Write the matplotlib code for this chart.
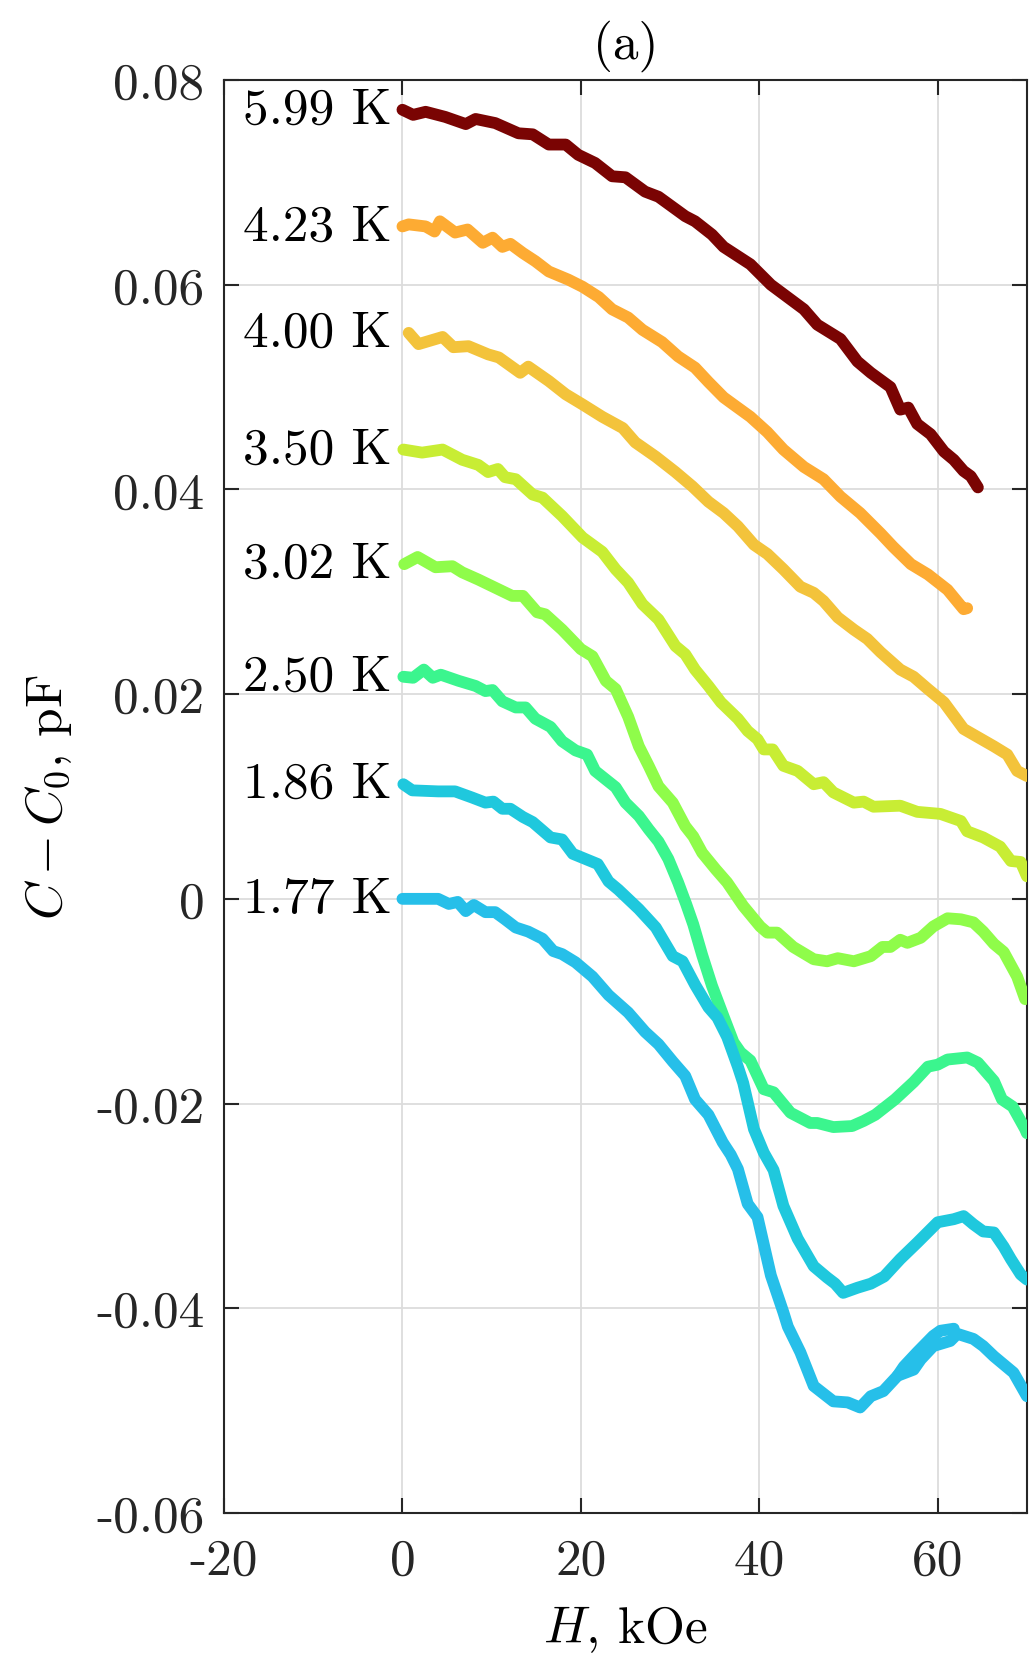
"""Capacitance vs field curves at several temperatures, panel (a)."""

from __future__ import annotations

import matplotlib

matplotlib.use("Agg")
import matplotlib.pyplot as plt
from matplotlib.axes import Axes

plt.rcParams["font.family"] = ["cmr10", "DejaVu Serif"]
plt.rcParams["mathtext.fontset"] = "cm"
plt.rcParams["axes.formatter.use_mathtext"] = True

# --- data (H in kOe, C - C0 in pF) ----------------------------------------
labels = ["5.99 K", "4.23 K", "4.00 K", "3.50 K", "3.02 K", "2.50 K", "1.86 K", "1.77 K"]
colors = ["#7a0403", "#fdab33", "#f3c33b", "#c8ed34", "#8ffc4a", "#3bf58e", "#1fc8dd", "#26bfe9"]

h_599 = [0, 1.2, 2.6, 4.8, 7.1, 8.2, 10.4, 13.0, 14.6, 16.4, 18.3, 19.7, 21.6, 23.5, 25.0,
         27.2, 28.7, 31.7, 32.8, 34.7, 36.0, 39.0, 41.3, 45.0, 46.5, 49.1, 51.0, 52.5, 54.7,
         55.8, 56.7, 57.7, 59.2, 60.7, 61.8, 62.9, 63.7, 64.5]
c_599 = [.0771, .0766, .0769, .0764, .0757, .0762, .0758, .0748, .0747, .0737, .0737, .0727,
         .0719, .0706, .0705, .0691, .0686, .0667, .0662, .0649, .0637, .0620, .0600, .0576,
         .0561, .0547, .0525, .0514, .0500, .0478, .0480, .0464, .0454, .0437, .0429, .0418,
         .0413, .0402]

h_423 = [0, 0.7, 2.6, 3.6, 4.2, 5.9, 7.3, 9.0, 10.1, 11.2, 12.1, 13.5, 14.9, 16.4, 18.6, 20.2,
         22.0, 23.5, 25.3, 26.9, 29.1, 30.9, 32.8, 34.3, 36.0, 37.1, 39.0, 40.9, 42.7, 45.0,
         47.2, 49.1, 51.3, 53.6, 55.0, 57.0, 58.9, 61.1, 62.9, 63.3]
c_423 = [.0657, .0659, .0657, .0652, .0662, .0651, .0654, .0641, .0646, .0637, .0640, .0631,
         .0623, .0613, .0605, .0598, .0588, .0576, .0568, .0556, .0544, .0530, .0519, .0505,
         .0490, .0483, .0471, .0456, .0439, .0422, .0410, .0393, .0377, .0357, .0344, .0327,
         .0317, .0302, .0283, .0284]

h_400 = [0.7, 1.8, 4.5, 5.7, 7.4, 9.6, 10.8, 13.2, 14.1, 16.4, 18.3, 20.2, 22.4, 24.7, 26.1,
         28.4, 30.6, 32.5, 34.3, 36.0, 37.6, 39.4, 40.9, 42.7, 44.6, 46.1, 47.2, 48.8, 50.6,
         52.1, 53.6, 55.8, 57.3, 58.9, 60.7, 62.9, 64.5, 66.3, 67.8, 68.9, 70.0]
c_400 = [.0553, .0542, .0549, .0539, .0540, .0532, .0529, .0514, .0520, .0506, .0493, .0483,
         .0471, .0460, .0446, .0432, .0417, .0403, .0388, .0377, .0364, .0346, .0337, .0322,
         .0305, .0299, .0291, .0275, .0263, .0254, .0241, .0224, .0217, .0205, .0192, .0166,
         .0158, .0149, .0141, .0125, .0120]

h_350 = [0.1, 2.2, 4.5, 6.7, 8.5, 9.6, 10.7, 11.5, 12.7, 14.6, 15.7, 17.9, 20.2, 22.4, 23.9,
         25.3, 26.9, 28.7, 30.6, 31.7, 32.8, 34.3, 35.7, 37.6, 38.7, 39.8, 40.5, 41.5, 42.7,
         44.3, 46.1, 47.2, 48.3, 50.6, 51.7, 52.8, 55.8, 57.7, 60.3, 62.6, 63.3, 65.1, 67.0,
         68.2, 69.3, 70.0]
c_350 = [.0439, .0436, .0439, .0429, .0424, .0417, .0420, .0412, .0410, .0395, .0392, .0374,
         .0353, .0339, .0322, .0309, .0288, .0273, .0247, .0239, .0224, .0208, .0192, .0176,
         .0164, .0156, .0146, .0146, .0130, .0125, .0112, .0114, .0104, .0094, .0095, .0090,
         .0091, .0085, .0083, .0076, .0066, .0060, .0051, .0037, .0036, .0022]

h_302 = [0.2, 1.7, 3.7, 5.6, 6.7, 8.5, 10.4, 12.3, 13.5, 15.1, 16.0, 17.9, 20.0, 21.3, 22.8,
         23.9, 25.3, 26.5, 27.6, 28.7, 30.3, 31.7, 32.6, 33.6, 35.1, 36.4, 38.2, 40.1, 40.9,
         42.0, 43.8, 46.1, 47.6, 48.8, 50.6, 52.5, 53.8, 54.7, 55.8, 56.6, 58.1, 59.5, 61.1,
         62.6, 64.0, 65.1, 66.3, 67.4, 68.9, 69.8]
c_302 = [.0327, .0334, .0324, .0325, .0319, .0312, .0304, .0296, .0296, .0280, .0278, .0263,
         .0244, .0237, .0213, .0205, .0178, .0149, .0130, .0110, .0094, .0071, .0061, .0045,
         .0029, .0016, -.0007, -.0027, -.0033, -.0033, -.0047, -.0059, -.0061, -.0058, -.0061,
         -.0056, -.0047, -.0047, -.0040, -.0043, -.0038, -.0027, -.0019, -.0020, -.0023,
         -.0032, -.0044, -.0052, -.0076, -.0098]

h_250 = [0.1, 1.2, 2.4, 3.4, 4.3, 6.3, 8.2, 9.3, 10.1, 11.2, 12.7, 13.8, 14.9, 16.6, 17.9,
         19.4, 20.7, 21.6, 23.9, 25.0, 26.5, 27.6, 28.7, 29.8, 30.9, 31.8, 32.6, 33.6, 34.7,
         36.0, 37.1, 37.9, 39.0, 40.5, 41.6, 43.5, 45.7, 46.5, 48.3, 50.4, 51.7, 53.0, 55.2,
         57.3, 58.9, 60.0, 61.1, 63.3, 64.5, 65.4, 66.3, 67.2, 68.4, 69.8, 70.0]
c_250 = [.0217, .0216, .0224, .0216, .0219, .0213, .0208, .0203, .0204, .0193, .0187, .0187,
         .0176, .0168, .0154, .0145, .0141, .0125, .0109, .0094, .0081, .0068, .0056, .0039,
         .0016, -.0005, -.0025, -.0055, -.0085, -.0115, -.0140, -.0150, -.0158, -.0186,
         -.0189, -.0209, -.0219, -.0219, -.0223, -.0222, -.0217, -.0211, -.0196, -.0179,
         -.0164, -.0162, -.0157, -.0155, -.0160, -.0169, -.0178, -.0196, -.0203, -.0225,
         -.0229]

h_186 = [0.1, 1.1, 4.0, 5.9, 7.8, 9.3, 10.2, 11.2, 12.1, 13.5, 14.6, 16.6, 17.9, 19.1, 20.5,
         21.9, 23.1, 24.2, 26.5, 28.4, 30.3, 31.4, 32.8, 34.3, 35.3, 36.4, 37.6, 38.2, 39.4,
         40.5, 41.6, 42.7, 44.3, 46.1, 47.6, 48.5, 49.4, 51.0, 52.5, 54.0, 55.8, 57.7, 60.0,
         61.8, 62.9, 64.0, 65.1, 66.3, 67.4, 68.2, 69.3, 70.0]
c_186 = [.0112, .0106, .0105, .0105, .0099, .0094, .0095, .0088, .0088, .0080, .0075, .0060,
         .0058, .0044, .0039, .0034, .0017, .0009, -.0010, -.0028, -.0056, -.0061, -.0084,
         -.0106, -.0116, -.0135, -.0164, -.0180, -.0225, -.0248, -.0265, -.0300, -.0332,
         -.0359, -.0370, -.0376, -.0385, -.0380, -.0376, -.0369, -.0352, -.0336, -.0316,
         -.0313, -.0310, -.0318, -.0325, -.0326, -.0340, -.0352, -.0367, -.0372]

h_177 = [0, 1.8, 4.0, 5.2, 6.2, 7.1, 8.0, 9.3, 10.4, 11.5, 12.7, 14.1, 15.7, 16.9, 17.9, 19.4,
         21.3, 23.1, 25.3, 27.2, 28.7, 30.3, 31.7, 32.8, 34.3, 35.9, 36.8, 37.6, 38.7, 39.8,
         41.3, 42.7, 43.2, 44.6, 46.1, 48.3, 49.9, 51.3, 52.5, 53.9, 55.5, 57.3, 58.1, 59.5,
         61.4, 62.2, 64.0, 65.1, 66.3, 68.5, 70.0]
c_177 = [0, 0, 0, -.0005, -.0003, -.0012, -.0006, -.0013, -.0013, -.0020, -.0028, -.0032,
         -.0039, -.0051, -.0054, -.0062, -.0076, -.0094, -.0111, -.0130, -.0142, -.0159,
         -.0173, -.0196, -.0211, -.0238, -.0250, -.0264, -.0298, -.0311, -.0368, -.0404,
         -.0418, -.0443, -.0476, -.0491, -.0492, -.0497, -.0486, -.0481, -.0466, -.0460,
         -.0450, -.0437, -.0432, -.0425, -.0430, -.0437, -.0447, -.0463, -.0486]

# short repeated sweep drawn on top of the 1.77 K curve
h_177_repeat = [55.5, 56.2, 57.7, 59.5, 60.3, 61.8]
c_177_repeat = [-.0466, -.0457, -.0443, -.0427, -.0422, -.0420]

fields = [h_599, h_423, h_400, h_350, h_302, h_250, h_186, h_177]
signals = [c_599, c_423, c_400, c_350, c_302, c_250, c_186, c_177]

x_ticks = [-20, 0, 20, 40, 60]
x_tick_labels = ["-20", "0", "20", "40", "60"]
y_ticks = [-0.06, -0.04, -0.02, 0, 0.02, 0.04, 0.06, 0.08]
y_tick_labels = ["-0.06", "-0.04", "-0.02", "0", "0.02", "0.04", "0.06", "0.08"]

FONT_SIZE = 37
LINE_WIDTH = 8.5


def _style_axes(ax: Axes) -> None:
    ax.set_xlim(-20, 70)
    ax.set_ylim(-0.06, 0.08)
    ax.set_xticks(x_ticks)
    ax.set_xticklabels(x_tick_labels)
    ax.set_yticks(y_ticks)
    ax.set_yticklabels(y_tick_labels)
    ax.tick_params(
        direction="in",
        length=11,
        width=1.5,
        color="#262626",
        labelsize=FONT_SIZE,
        labelcolor="#262626",
        top=True,
        right=True,
    )
    ax.tick_params(axis="y", pad=14)
    ax.tick_params(axis="x", pad=18)
    for spine in ax.spines.values():
        spine.set_linewidth(1.5)
        spine.set_color("#262626")
    ax.grid(True, color="#dcdcdc", linewidth=1.3)
    ax.set_axisbelow(True)


def main() -> None:
    fig = plt.figure(figsize=(10.29, 16.58), dpi=100)
    ax = fig.add_axes([0.2177, 0.0869, 0.7803, 0.8642])
    _style_axes(ax)

    for h, c, color, label in zip(fields, signals, colors, labels):
        ax.plot(h, c, color=color, linewidth=LINE_WIDTH, solid_capstyle="round",
                solid_joinstyle="round", zorder=3)
        ax.text(-1.2, c[0], label, ha="right", va="center", fontsize=FONT_SIZE,
                color="black", zorder=4)

    ax.plot(h_177_repeat, c_177_repeat, color=colors[-1], linewidth=LINE_WIDTH,
            solid_capstyle="round", zorder=3)

    ax.set_title("(a)", fontsize=FONT_SIZE, pad=16)
    ax.set_xlabel("$H$, kOe", fontsize=FONT_SIZE, labelpad=14)
    ax.set_ylabel("$C - C_0$, pF", fontsize=FONT_SIZE, labelpad=16)

    fig.savefig("out.png", dpi=100)
    plt.close(fig)


if __name__ == "__main__":
    main()
